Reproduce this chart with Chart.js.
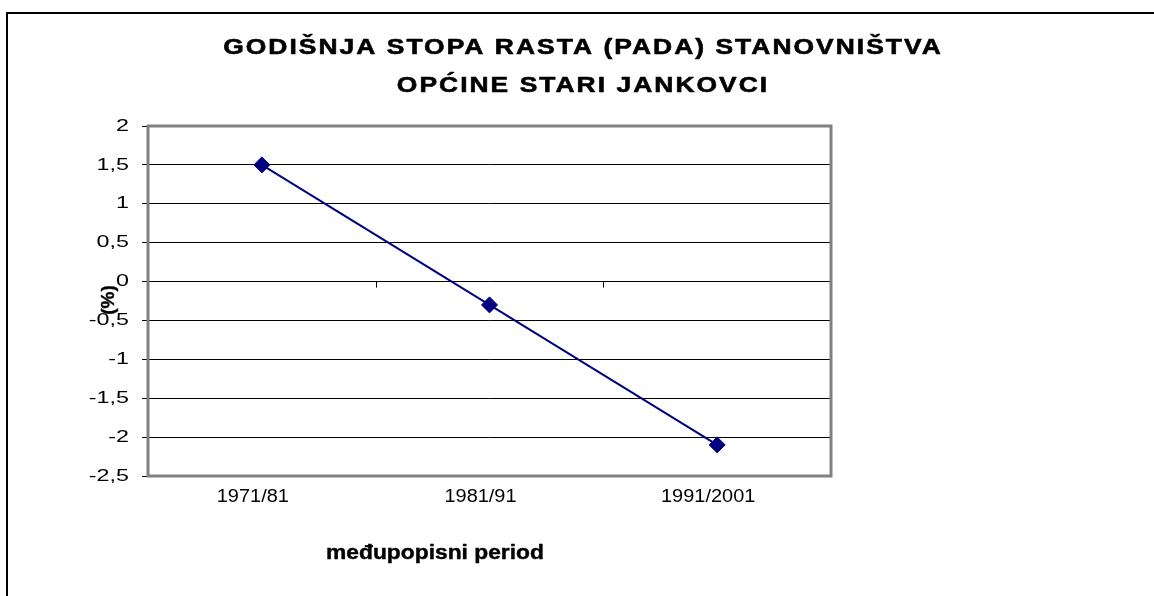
<!DOCTYPE html>
<html>
<head>
<meta charset="utf-8">
<script src="https://cdn.jsdelivr.net/npm/chart.js@4/dist/chart.umd.min.js"></script>
<style>
  html, body { margin: 0; padding: 0; background: #ffffff; }
  #wrap { width: 1154px; height: 596px; position: relative; }
</style>
</head>
<body>
<div id="wrap"><canvas id="c" width="1154" height="596"></canvas></div>
<script>
// ---- data ----
const categories = ['1971/81', '1981/91', '1991/2001'];
const growthRate = [1.5, -0.3, -2.1];
const titleLines = ['GODIŠNJA STOPA RASTA (PADA) STANOVNIŠTVA', 'OPĆINE STARI JANKOVCI'];
const xAxisTitle = 'međupopisni period';
const yAxisTitle = '(%)';
const yMin = -2.5, yMax = 2, yStep = 0.5;

const FONT = '"Liberation Sans", Arial, sans-serif';
const Y_LABEL_STRETCH = 1.37;
const X_LABEL_STRETCH = 1.14;
const nativeFillText = CanvasRenderingContext2D.prototype.fillText;
const nativeStrokeText = CanvasRenderingContext2D.prototype.strokeText;

function stretchedText(ctx, text, x, y, sx, weight) {
  ctx.save();
  ctx.translate(x, y);
  ctx.scale(sx, 1);
  if (weight) {
    ctx.lineWidth = weight;
    ctx.lineJoin = 'round';
    ctx.strokeStyle = ctx.fillStyle;
    nativeStrokeText.call(ctx, text, 0, 0);
  }
  nativeFillText.call(ctx, text, 0, 0);
  ctx.restore();
}

const decorPlugin = {
  id: 'decor',
  beforeInit(chart) {
    const ctx = chart.ctx;
    ctx.fillText = function (text, x, y, maxWidth) {
      const sx = categories.includes(String(text)) ? X_LABEL_STRETCH : Y_LABEL_STRETCH;
      this.save();
      this.translate(x, y);
      this.scale(sx, 1);
      if (maxWidth !== undefined) nativeFillText.call(this, text, 0, 0, maxWidth / sx);
      else nativeFillText.call(this, text, 0, 0);
      this.restore();
    };
  },
  beforeDraw(chart) {
    const ctx = chart.ctx;
    ctx.save();
    ctx.fillStyle = '#ffffff';
    ctx.fillRect(0, 0, chart.width, chart.height);
    ctx.restore();
  },
  beforeDatasetsDraw(chart) {
    const ctx = chart.ctx;
    const a = chart.chartArea;
    const xs = chart.scales.x, ys = chart.scales.y;
    ctx.save();
    const y0 = ys.getPixelForValue(0);
    ctx.strokeStyle = '#000000';
    ctx.lineWidth = 1;
    ctx.beginPath();
    for (let i = 0; i < categories.length; i++) {
      let bx = (i < categories.length - 1)
        ? (xs.getPixelForTick(i) + xs.getPixelForTick(i + 1)) / 2
        : a.right;
      bx = Math.round(bx) + 0.5;
      ctx.moveTo(bx, y0);
      ctx.lineTo(bx, y0 + 6);
    }
    ctx.stroke();
    ctx.strokeStyle = '#808080';
    ctx.lineWidth = 3;
    ctx.strokeRect(a.left, a.top, a.right - a.left, a.bottom - a.top);
    ctx.restore();
  },
  afterDraw(chart) {
    const ctx = chart.ctx;
    ctx.save();
    ctx.strokeStyle = '#000000';
    ctx.lineWidth = 2;
    ctx.beginPath();
    ctx.moveTo(7, chart.height);
    ctx.lineTo(7, 13);
    ctx.lineTo(chart.width, 13);
    ctx.stroke();

    ctx.fillStyle = '#000000';
    ctx.textAlign = 'center';
    ctx.textBaseline = 'middle';
    // chart title
    ctx.font = 'bold 22px ' + FONT;
    ctx.letterSpacing = '1.7px';
    stretchedText(ctx, titleLines[0], 583, 48, 1.2, 0.6);
    stretchedText(ctx, titleLines[1], 583, 86, 1.2, 0.6);
    ctx.letterSpacing = '0px';
    // x axis title
    ctx.font = 'bold 20px ' + FONT;
    stretchedText(ctx, xAxisTitle, 435, 553, 1.14, 0.4);
    // y axis title
    ctx.translate(109, 300);
    ctx.rotate(-Math.PI / 2);
    ctx.font = 'bold 19px ' + FONT;
    ctx.lineWidth = 0.4;
    ctx.strokeStyle = '#000000';
    nativeStrokeText.call(ctx, yAxisTitle, 0, 0);
    nativeFillText.call(ctx, yAxisTitle, 0, 0);
    ctx.restore();
  }
};

new Chart(document.getElementById('c'), {
  type: 'line',
  data: {
    labels: categories,
    datasets: [{
      data: growthRate,
      borderColor: '#000080',
      backgroundColor: '#000080',
      borderWidth: 2,
      pointStyle: 'rectRot',
      pointRadius: 8,
      pointBorderWidth: 1,
      pointBackgroundColor: '#000080',
      pointBorderColor: '#000080',
      tension: 0,
      fill: false
    }]
  },
  options: {
    responsive: false,
    animation: false,
    devicePixelRatio: 1,
    layout: { padding: { top: 126, right: 323, left: 0, bottom: 0 } },
    plugins: {
      legend: { display: false },
      title: { display: false },
      tooltip: { enabled: false }
    },
    scales: {
      x: {
        type: 'category',
        offset: true,
        grid: { display: false },
        border: { display: false },
        ticks: { color: '#000000', font: { family: FONT, size: 17.5 }, padding: 3, labelOffset: -9, maxRotation: 0, autoSkip: false },
        afterFit(scale) { scale.height = 120; }
      },
      y: {
        min: yMin,
        max: yMax,
        grid: { color: '#000000', lineWidth: 1, tickLength: 6, tickColor: '#000000' },
        border: { display: false },
        ticks: {
          stepSize: yStep,
          color: '#000000',
          padding: 13,
          font: { family: FONT, size: 17 },
          callback: (v) => String(v).replace('.', ',')
        },
        afterFit(scale) { scale.width = 148; }
      }
    }
  },
  plugins: [decorPlugin]
});
</script>
</body>
</html>
